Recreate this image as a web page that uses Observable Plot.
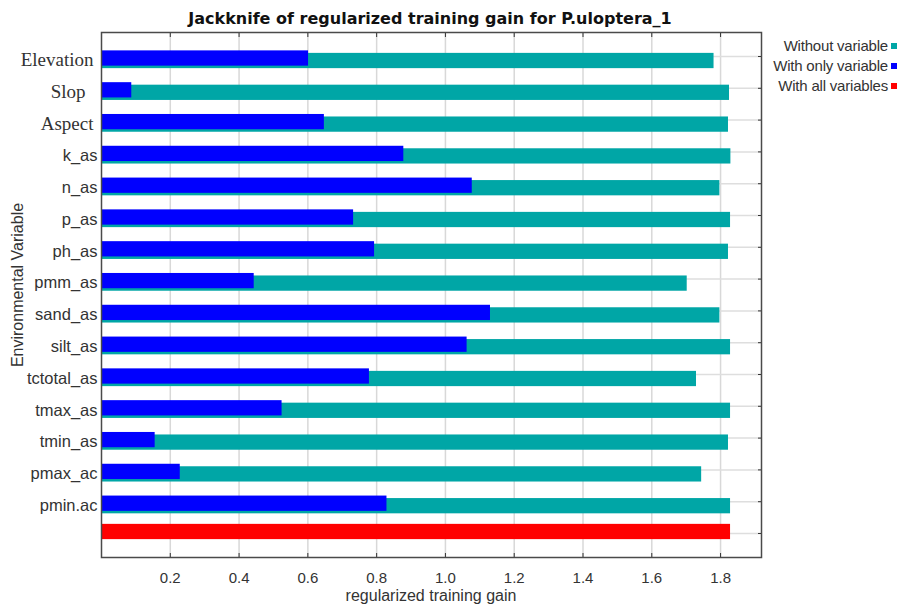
<!DOCTYPE html>
<html>
<head>
<meta charset="utf-8">
<script src="https://cdn.jsdelivr.net/npm/d3@7"></script>
<script src="https://cdn.jsdelivr.net/npm/@observablehq/plot@0.6"></script>
<style>
  body { margin: 0; background: #fff; }
  #chart { position: relative; width: 907px; height: 610px; overflow: hidden;
           font-family: "Liberation Sans", Arial, sans-serif; color: #333; }
  #chart svg { position: absolute; left: 0; top: 0; }
  .title { position: absolute; left: 0; width: 860px; top: 11px; text-align: center;
           font: bold 16px/16px "DejaVu Sans", sans-serif; color: #111; white-space: nowrap; }
  .xlabel { position: absolute; left: 101px; width: 660px; top: 588px; text-align: center;
            font-size: 16px; line-height: 16px; color: #333; white-space: nowrap; }
  .ylabel { position: absolute; left: 18px; top: 285px; transform: translate(-50%, -50%) rotate(-90deg);
            font-size: 16px; line-height: 16px; color: #333; white-space: nowrap; }
  .legend-row { position: absolute; right: 19px; font-size: 15px; line-height: 16px;
                letter-spacing: -0.2px; color: #333; white-space: nowrap; text-align: right; }
  .legend-swatch { position: absolute; left: 891px; width: 6px; height: 6px; }
</style>
</head>
<body>
<div id="chart"></div>
<script>
// Environmental variables, top to bottom
const variables = ["Elevation", "Slop", "Aspect", "k_as", "n_as", "p_as", "ph_as", "pmm_as",
                   "sand_as", "silt_as", "tctotal_as", "tmax_as", "tmin_as", "pmax_ac", "pmin.ac"];
// Regularized training gain of the model built without each variable
const withoutGain = [1.781, 1.826, 1.823, 1.830, 1.798, 1.829, 1.823, 1.703,
                     1.798, 1.829, 1.730, 1.829, 1.823, 1.745, 1.829];
// Regularized training gain of the model built with only each variable
const onlyGain = [0.602, 0.088, 0.648, 0.879, 1.078, 0.733, 0.794, 0.444,
                  1.131, 1.063, 0.779, 0.525, 0.156, 0.229, 0.830];
// Gain of the full model
const allGain = 1.829;
const allKey = "With all variables";

const xTicks = [0.2, 0.4, 0.6, 0.8, 1.0, 1.2, 1.4, 1.6, 1.8];
const serifNames = ["Elevation", "Aspect"];
const serifNamesWide = ["Slop"];
const sansNames = variables.filter(d => !serifNames.includes(d) && !serifNamesWide.includes(d));

const legendLabels = ["Without variable", "With only variable", "With all variables"];
const colors = {without: "#00a6a6", only: "#0000ff", all: "#ff0000"};
const legendColors = [colors.without, colors.only, colors.all];

const titleText = "Jackknife of regularized training gain for P.uloptera_1";
const xLabel = "regularized training gain";
const yLabel = "Environmental Variable";

const rows = variables.map((name, i) => ({name, without: withoutGain[i], only: onlyGain[i]}));
const allRow = [{name: allKey, gain: allGain}];
const yDomain = [...variables, allKey];

const chart = Plot.plot({
  width: 907,
  height: 610,
  marginLeft: 101,
  marginRight: 146,
  marginTop: 32,
  marginBottom: 53,
  style: {background: "transparent", fontFamily: "Liberation Sans, Arial, sans-serif", color: "#333"},
  x: {domain: [0, 1.919]},
  y: {domain: yDomain, paddingInner: 0.52, paddingOuter: 0.515, round: false},
  marks: [
    // grid
    Plot.ruleX(xTicks, {stroke: "#d8d8d8", strokeWidth: 1.5}),
    Plot.ruleY(yDomain, {stroke: "#dedede", strokeWidth: 1.5}),
    // bars
    Plot.barX(rows, {x: "without", y: "name", fill: colors.without, dy: 4.5}),
    Plot.barX(rows, {x: "only", y: "name", fill: colors.only, dy: 2}),
    Plot.barX(allRow, {x: "gain", y: "name", fill: colors.all, dy: -1.5}),
    // x axis labels and inward ticks
    Plot.axisX({anchor: "bottom", ticks: xTicks, tickSize: 0, tickPadding: 15,
                tickFormat: d3.format(".1f"), fontSize: 15, label: null}),
    Plot.axisX({anchor: "bottom", ticks: xTicks, tickSize: -4, tickFormat: () => "", label: null}),
    Plot.axisX({anchor: "top", ticks: xTicks, tickSize: -4, tickFormat: () => "", label: null}),
    Plot.axisY({anchor: "right", ticks: yDomain, tickSize: -4, tickFormat: () => "", label: null}),
    // y axis labels
    Plot.axisY({anchor: "left", ticks: sansNames, tickSize: 0, tickPadding: 4,
                fontSize: 16.5, dy: 4, label: null}),
    Plot.axisY({anchor: "left", ticks: serifNames, tickSize: 0, tickPadding: 8,
                fontSize: 19, fontFamily: "Liberation Serif, serif", dy: 3.5, label: null}),
    Plot.axisY({anchor: "left", ticks: serifNamesWide, tickSize: 0, tickPadding: 16,
                fontSize: 19, fontFamily: "Liberation Serif, serif", dy: 3.5, label: null}),
    Plot.frame({stroke: "#4a4a4a", strokeWidth: 1.5})
  ]
});

const root = document.getElementById("chart");
root.appendChild(chart);

const title = document.createElement("div");
title.className = "title";
title.textContent = titleText;
root.appendChild(title);

const xl = document.createElement("div");
xl.className = "xlabel";
xl.textContent = xLabel;
root.appendChild(xl);

const yl = document.createElement("div");
yl.className = "ylabel";
yl.textContent = yLabel;
root.appendChild(yl);

// legend: right-aligned labels with small colour squares
const legendTop = 38, legendStep = 20;
legendLabels.forEach((label, i) => {
  const row = document.createElement("div");
  row.className = "legend-row";
  row.style.top = (legendTop + i * legendStep) + "px";
  row.textContent = label;
  root.appendChild(row);
  const sw = document.createElement("div");
  sw.className = "legend-swatch";
  sw.style.top = (legendTop + 5 + i * legendStep) + "px";
  sw.style.background = legendColors[i];
  root.appendChild(sw);
});
</script>
</body>
</html>
